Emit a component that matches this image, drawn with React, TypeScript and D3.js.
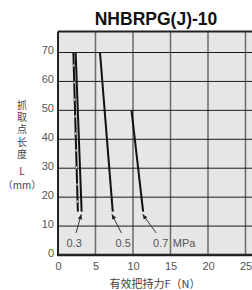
import React, { useRef, useEffect } from "react";
import { select, scaleLinear, axisBottom, axisLeft, line } from "d3";

// 0.3 MPa (two curves), 0.5 MPa, 0.7 MPa : [force N, length mm]
const line03a = [[2.05, 70], [2.65, 15]];
const line03b = [[2.35, 70], [3.15, 15]];
const line05 = [[5.6, 70], [7.3, 15]];
const line07 = [[9.8, 50], [11.35, 15]];

const xTicks = [0, 5, 10, 15, 20, 25];
const yTicks = [0, 10, 20, 30, 40, 50, 60, 70];

// label text, label x, arrow start, arrow tip
const pressureLabels = ["0.3", "0.5", "0.7"];
const labelX = [2.15, 8.7, 13.7];
const arrowFrom = [[2.4, 7.6], [8.45, 7.6], [13.1, 7.6]];
const arrowTo = [[3.1, 14], [7.2, 14], [11.3, 14]];

const yLabelChars = ["抓", "取", "点", "长", "度", "L", "（mm）"];
const yLabelPos = [109, 121, 133, 145.5, 157.5, 175, 188.5];

function App() {
  const svgRef = useRef(null);

  useEffect(() => {
    const svg = select(svgRef.current);
    svg.selectAll("*").remove();

    const x = scaleLinear().domain([0, 30]).range([58, 283]);
    const y = scaleLinear().domain([0, 70]).range([255, 52.5]);
    const font = "'Liberation Sans', Arial, sans-serif";
    const cjk = "'Noto Sans CJK SC', sans-serif";

    // background
    svg.append("rect")
      .attr("x", x(0)).attr("y", y(77.3))
      .attr("width", x(30) - x(0)).attr("height", y(0) - y(77.3))
      .attr("fill", "#e6e6e6");

    // grid
    svg.append("g").selectAll("line").data(xTicks.slice(1).concat([30]))
      .join("line")
      .attr("x1", d => x(d)).attr("x2", d => x(d))
      .attr("y1", y(77.3)).attr("y2", y(0))
      .attr("stroke", "#6a6a6a").attr("stroke-width", 1.5);
    svg.append("g").selectAll("line").data(yTicks.slice(1))
      .join("line")
      .attr("x1", x(0)).attr("x2", x(30))
      .attr("y1", d => y(d)).attr("y2", d => y(d))
      .attr("stroke", "#1a1a1a").attr("stroke-width", 1);

    // frame
    svg.append("line").attr("x1", x(0)).attr("x2", x(30))
      .attr("y1", y(77.3)).attr("y2", y(77.3))
      .attr("stroke", "#222").attr("stroke-width", 2);
    svg.append("line").attr("x1", x(0)).attr("x2", x(0))
      .attr("y1", y(77.3)).attr("y2", y(0))
      .attr("stroke", "#222").attr("stroke-width", 2);
    svg.append("line").attr("x1", x(0) - 1).attr("x2", x(30))
      .attr("y1", y(0)).attr("y2", y(0))
      .attr("stroke", "#222").attr("stroke-width", 2.5);

    // axes (labels only)
    const gx = svg.append("g").attr("transform", `translate(0,${y(0)})`)
      .call(axisBottom(x).tickValues(xTicks).tickSize(0).tickPadding(7));
    const gy = svg.append("g").attr("transform", `translate(${x(0)},0)`)
      .call(axisLeft(y).tickValues(yTicks).tickSize(0).tickPadding(4));
    [gx, gy].forEach(g => {
      g.select(".domain").remove();
      g.selectAll("text").attr("font-size", 11).attr("font-family", font).attr("fill", "#555");
    });
    gy.selectAll("text").attr("dy", "0.1em");

    // curves
    const path = line().x(d => x(d[0])).y(d => y(d[1]));
    svg.append("path").attr("d", path(line03a)).attr("fill", "none")
      .attr("stroke", "#111").attr("stroke-width", 2);
    svg.append("path").attr("d", path(line03a)).attr("fill", "none")
      .attr("stroke", "#fff").attr("stroke-width", 1.2)
      .attr("stroke-dasharray", "2,15").attr("stroke-dashoffset", -12);
    [line03b, line05, line07].forEach(d => {
      svg.append("path").attr("d", path(d)).attr("fill", "none")
        .attr("stroke", "#111").attr("stroke-width", 2);
    });

    // arrows
    svg.append("defs").append("marker")
      .attr("id", "arr").attr("viewBox", "0 0 10 10")
      .attr("refX", 9).attr("refY", 5)
      .attr("markerWidth", 6).attr("markerHeight", 6)
      .attr("orient", "auto")
      .append("path").attr("d", "M0,1 L10,5 L0,9 Z").attr("fill", "#222");
    arrowFrom.forEach((a, i) => {
      svg.append("line")
        .attr("x1", x(a[0])).attr("y1", y(a[1]))
        .attr("x2", x(arrowTo[i][0])).attr("y2", y(arrowTo[i][1]))
        .attr("stroke", "#222").attr("stroke-width", 0.9)
        .attr("marker-end", "url(#arr)");
    });
    pressureLabels.forEach((t, i) => {
      svg.append("text").attr("x", x(labelX[i])).attr("y", y(2.8))
        .attr("text-anchor", "middle").attr("font-size", 11)
        .attr("font-family", font).attr("fill", "#555").text(t);
    });
    svg.append("text").attr("x", x(15.3)).attr("y", y(2.8))
      .attr("font-size", 11).attr("font-family", font).attr("fill", "#555").text("MPa");

    // titles
    svg.append("text").attr("x", 156).attr("y", 25)
      .attr("text-anchor", "middle").attr("font-size", 17.5).attr("font-weight", "bold")
      .attr("font-family", font).attr("fill", "#111").text("NHBRPG(J)-10");
    svg.append("text").attr("x", 155).attr("y", 288)
      .attr("text-anchor", "middle").attr("font-size", 11)
      .attr("font-family", cjk).attr("fill", "#444")
      .text("有效把持力F（N）");
    svg.append("text")
      .attr("text-anchor", "middle").attr("font-size", 10)
      .attr("font-family", cjk).attr("fill", "#444")
      .selectAll("tspan").data(yLabelChars).join("tspan")
      .attr("x", 22).attr("y", (d, i) => yLabelPos[i])
      .text(d => d);
  }, []);

  return (
    <svg ref={svgRef} width={252} height={290}
      style={{ position: "absolute", left: 0, top: 0, background: "#fff" }} />
  );
}

export default App;
